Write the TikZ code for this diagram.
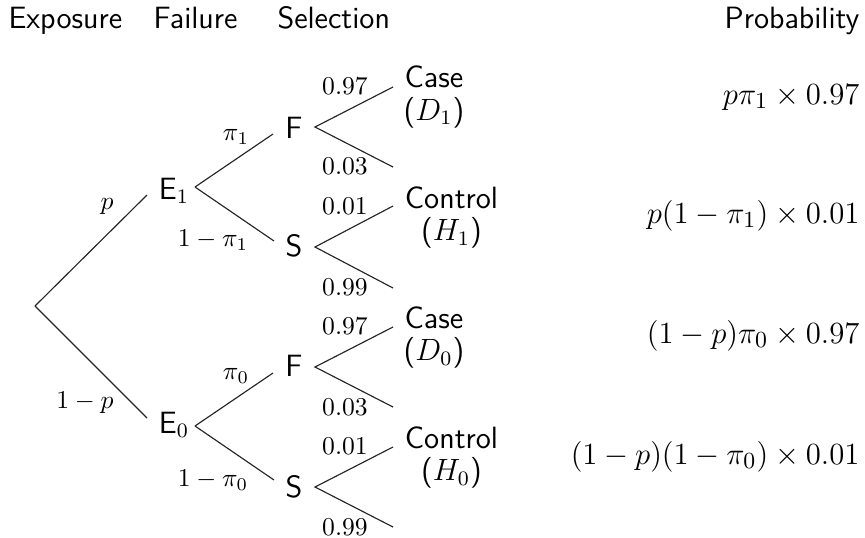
\documentclass[tikz,border=0pt]{standalone}
\begin{document}
\begin{tikzpicture}[x=0.39pt,y=-0.39pt,
  every node/.style={inner sep=0pt},
  hdr/.style={font=\sffamily\fontsize{12}{14}\selectfont},
  tnode/.style={font=\sffamily\fontsize{12}{14}\selectfont},
  blab/.style={font=\fontsize{10}{12}\selectfont},
  prob/.style={font=\fontsize{12.2}{14}\selectfont, anchor=base east},
  leaf/.style={font=\sffamily\fontsize{12}{12.5}\selectfont, align=center},
  branch/.style={line width=0.45pt, draw=black!85}]
\useasboundingbox (0,0) rectangle (865,537);

% headers
\node[hdr, anchor=base west] (hExp) at (8,28) {Exposure};
\node[hdr, anchor=base west] (hFail) at (153,28) {Failure};
\node[hdr, anchor=base west] (hSel) at (277,28) {Selection};
\node[hdr, anchor=base east] (hProb) at (860,28) {Probability};

% tree nodes
\node[tnode] (E1) at (174,191) {E$_1$};
\node[tnode] (E0) at (174,425) {E$_0$};
\node[tnode] (F1) at (294,128) {F};
\node[tnode] (S1) at (294,246) {S};
\node[tnode] (F0) at (294,366) {F};
\node[tnode] (S0) at (294,487) {S};

% joints
\coordinate (R) at (35,306);
\coordinate (E1in) at (147,195);
\coordinate (E1out) at (195,187);
\coordinate (E0in) at (147,418);
\coordinate (E0out) at (195,426);
\coordinate (F1in) at (273,134);
\coordinate (F1out) at (315,127);
\coordinate (S1in) at (274,241);
\coordinate (S1out) at (315,247);
\coordinate (F0in) at (273,373);
\coordinate (F0out) at (315,367);
\coordinate (S0in) at (274,480);
\coordinate (S0out) at (315,487);
% leaf ends
\coordinate (F1a) at (393,87);
\coordinate (F1b) at (393,167);
\coordinate (S1a) at (393,206);
\coordinate (S1b) at (393,288);
\coordinate (F0a) at (393,327);
\coordinate (F0b) at (393,407);
\coordinate (S0a) at (393,447);
\coordinate (S0b) at (393,527);

% branches
\draw[branch] (R) -- (E1in);
\draw[branch] (R) -- (E0in);
\draw[branch] (E1out) -- (F1in);
\draw[branch] (E1out) -- (S1in);
\draw[branch] (E0out) -- (F0in);
\draw[branch] (E0out) -- (S0in);
\draw[branch] (F1a) -- (F1out) -- (F1b);
\draw[branch] (S1a) -- (S1out) -- (S1b);
\draw[branch] (F0a) -- (F0out) -- (F0b);
\draw[branch] (S0a) -- (S0out) -- (S0b);

% branch labels
\node[blab] (lp) at (107,206) {$p$};
\node[blab] (l1p) at (85,403) {$1-p$};
\node[blab] (lpi1) at (236,137) {$\pi_1$};
\node[blab] (l1pi1) at (213,240) {$1-\pi_1$};
\node[blab] (lpi0) at (236,376) {$\pi_0$};
\node[blab] (l1pi0) at (213,480) {$1-\pi_0$};
\node[blab] (a1) at (345,86) {$0.97$};
\node[blab] (a2) at (345,166) {$0.03$};
\node[blab] (a3) at (345,206) {$0.01$};
\node[blab] (a4) at (345,287) {$0.99$};
\node[blab] (a5) at (345,326) {$0.97$};
\node[blab] (a6) at (345,407) {$0.03$};
\node[blab] (a7) at (345,446) {$0.01$};
\node[blab] (a8) at (345,527) {$0.99$};

% leaves
\node[leaf] (C1) at (434,97) {Case\\($D_1$)};
\node[leaf] (K1) at (451.5,217.5) {Control\\($H_1$)};
\node[leaf] (C0) at (434,337.5) {Case\\($D_0$)};
\node[leaf] (K0) at (451.5,457.5) {Control\\($H_0$)};

% probabilities
\node[prob] (P1) at (860,104) {$p\pi_1\times0.97$};
\node[prob] (P2) at (860,223) {$p(1-\pi_1)\times0.01$};
\node[prob] (P3) at (860,343) {$(1-p)\pi_0\times0.97$};
\node[prob] (P4) at (860,464) {$(1-p)(1-\pi_0)\times0.01$};
\end{tikzpicture}
\end{document}
